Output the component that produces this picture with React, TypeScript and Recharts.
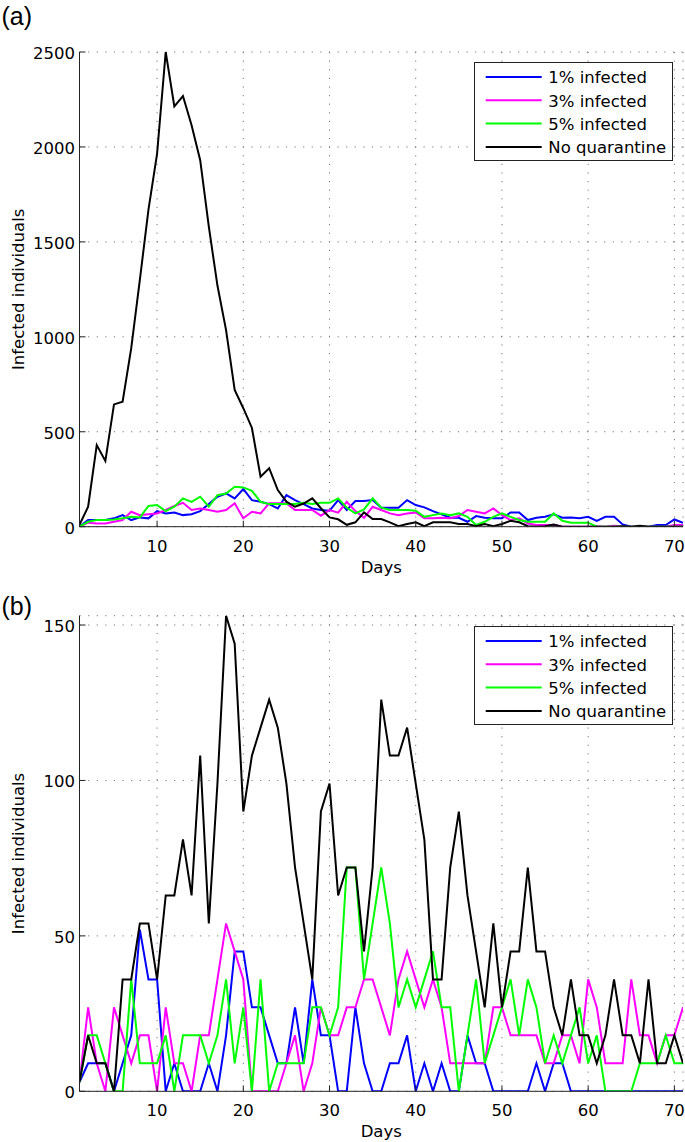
import React from 'react';
import { LineChart, Line, XAxis, YAxis, CartesianGrid, Legend } from 'recharts';

// ---------- data ----------
const days = Array.from({ length: 71 }, (_, i) => i + 1);
const seriesNames = ['1% infected', '3% infected', '5% infected', 'No quarantine'];
const seriesColors = ['#0000ff', '#ff00ff', '#00ff00', '#000000'];
const xTicks = [10, 20, 30, 40, 50, 60, 70];
const yTicksA = [0, 500, 1000, 1500, 2000, 2500];
const yTicksB = [0, 50, 100, 150];

// Panel (a)
const a1pct = [0, 35, 35, 35, 44, 61, 35, 49, 44, 82, 70, 75, 61, 66, 82, 119, 158, 175, 149, 198, 140, 131, 119, 96, 166, 140, 119, 96, 88, 84, 140, 88, 135, 135, 140, 100, 100, 100, 140, 114, 102, 82, 65, 47, 47, 26, 56, 47, 44, 44, 75, 75, 35, 47, 52, 65, 47, 49, 44, 52, 30, 52, 52, 12, 0, 0, 0, 9, 9, 38, 21];
const a3pct = [0, 21, 17, 17, 26, 35, 79, 61, 65, 70, 88, 109, 126, 88, 96, 88, 79, 88, 123, 44, 79, 70, 123, 123, 123, 88, 88, 88, 58, 88, 74, 131, 82, 47, 105, 88, 70, 61, 70, 75, 44, 44, 47, 44, 56, 88, 79, 70, 96, 61, 35, 44, 17, 9, 9, 9, 0, 0, 0, 0, 3, 0, 5, 0, 0, 0, 0, 0, 0, 9, 9];
const a5pct = [0, 26, 35, 35, 38, 44, 52, 49, 109, 114, 82, 105, 149, 131, 158, 105, 166, 175, 210, 207, 189, 131, 119, 119, 119, 119, 126, 119, 126, 126, 149, 100, 70, 91, 149, 100, 88, 88, 88, 84, 52, 61, 70, 61, 70, 52, 9, 26, 52, 70, 52, 35, 26, 26, 26, 70, 31, 21, 21, 21, 0, 0, 0, 0, 0, 0, 0, 0, 0, 0, 0];
const aNoQ = [10, 105, 430, 346, 644, 658, 940, 1300, 1670, 1965, 2500, 2214, 2268, 2114, 1930, 1580, 1270, 1035, 720, 624, 520, 263, 308, 193, 132, 105, 122, 149, 97, 49, 39, 10, 23, 75, 40, 40, 23, 3, 14, 23, 3, 23, 23, 23, 14, 14, 3, 14, 3, 14, 31, 23, 3, 0, 3, 12, 0, 0, 0, 0, 0, 0, 0, 3, 0, 5, 0, 0, 0, 0, 0];

// Panel (b)
const b1pct = [3, 9, 9, 9, 0, 9, 18, 52, 36, 36, 0, 9, 0, 0, 0, 9, 0, 18, 45, 45, 27, 27, 18, 9, 9, 27, 9, 36, 18, 18, 0, 0, 27, 9, 0, 0, 9, 9, 18, 0, 9, 0, 9, 0, 0, 18, 9, 9, 0, 0, 0, 0, 0, 9, 0, 9, 9, 0, 0, 0, 0, 0, 0, 0, 0, 0, 0, 0, 0, 0, 0];
const b3pct = [3, 27, 9, 0, 27, 18, 9, 18, 18, 0, 27, 9, 9, 0, 18, 18, 36, 54, 45, 36, 0, 0, 0, 0, 9, 18, 0, 9, 27, 18, 18, 27, 27, 36, 36, 27, 18, 36, 45, 36, 27, 36, 27, 9, 9, 9, 9, 9, 27, 27, 18, 18, 18, 18, 9, 9, 18, 18, 9, 36, 27, 9, 9, 9, 36, 18, 18, 9, 18, 18, 27];
const b5pct = [3, 18, 18, 9, 0, 0, 36, 9, 9, 9, 18, 0, 18, 18, 18, 9, 18, 36, 9, 27, 0, 36, 0, 9, 9, 9, 9, 27, 27, 18, 27, 72, 72, 36, 54, 72, 54, 27, 36, 27, 36, 45, 27, 27, 0, 18, 36, 9, 18, 27, 36, 18, 36, 27, 9, 18, 9, 18, 27, 9, 18, 0, 0, 0, 0, 9, 9, 9, 18, 9, 9];
const bNoQ = [3, 18, 9, 9, 0, 36, 36, 54, 54, 36, 63, 63, 81, 63, 108, 54, 99, 153, 144, 90, 108, 117, 126, 117, 99, 72, 54, 36, 90, 99, 63, 72, 72, 45, 72, 126, 108, 108, 117, 99, 81, 36, 36, 72, 90, 63, 45, 27, 54, 27, 45, 45, 72, 45, 45, 27, 18, 36, 18, 18, 9, 18, 36, 18, 18, 9, 36, 9, 9, 18, 9];

const buildRows = (s: number[][]) =>
  days.map((d, i) => ({ day: d, s0: s[0][i], s1: s[1][i], s2: s[2][i], s3: s[3][i] }));

const dataA = buildRows([a1pct, a3pct, a5pct, aNoQ]);
const dataB = buildRows([b1pct, b3pct, b5pct, bNoQ]);

// ---------- styling ----------
const FONT = '"DejaVu Sans", Verdana, sans-serif';
const FS = 16.5;
const TICK_LEN = 6;
const FRAME = '#222';
const CHART_W = 685;
const PLOT_LEFT = 79.5;
const PLOT_RIGHT_MARGIN = 2;
const X_AXIS_H = 45;

const BottomTick = (p: any) => (
  <g>
    <line x1={p.x} x2={p.x} y1={p.y} y2={p.y - TICK_LEN} stroke={FRAME} strokeWidth={1} />
    <text x={p.x} y={p.y + 25} textAnchor="middle" fontSize={FS} fontFamily={FONT} fill="#000">
      {p.payload.value}
    </text>
  </g>
);
const TopTick = (p: any) => (
  <line x1={p.x} x2={p.x} y1={p.y} y2={p.y + TICK_LEN} stroke={FRAME} strokeWidth={1} />
);
const LeftTick = (p: any) => (
  <g>
    <line x1={p.x} x2={p.x + TICK_LEN} y1={p.y} y2={p.y} stroke={FRAME} strokeWidth={1} />
    <text x={p.x - 4.5} y={p.y + 7} textAnchor="end" fontSize={FS} fontFamily={FONT} fill="#000">
      {p.payload.value}
    </text>
  </g>
);
const RightTick = (p: any) => (
  <line x1={p.x} x2={p.x - TICK_LEN} y1={p.y} y2={p.y} stroke={FRAME} strokeWidth={1} />
);

const LegendBox = () => (
  <svg width={199} height={99} style={{ display: 'block' }}>
    <rect x={0.5} y={0.5} width={198} height={98} fill="#fff" stroke={FRAME} strokeWidth={1} />
    {seriesNames.map((n, i) => {
      const cy = 15 + i * 23.3;
      return (
        <g key={n}>
          <line x1={11.7} x2={67.7} y1={cy} y2={cy} stroke={seriesColors[i]} strokeWidth={2} />
          <text x={74.3} y={cy + 6.3} fontSize={FS} fontFamily={FONT} fill="#000">
            {n}
          </text>
        </g>
      );
    })}
  </svg>
);

type PanelProps = {
  data: any[];
  height: number;
  top: number;
  marginTop: number;
  marginBottom: number;
  yMax: number;
  yTicks: number[];
  tag: string;
  tagBaseline: number;
};

const Panel = ({ data, height, top, marginTop, marginBottom, yMax, yTicks, tag, tagBaseline }: PanelProps) => {
  const plotTop = marginTop;
  const plotBottom = height - marginBottom - X_AXIS_H;
  const cy = (plotTop + plotBottom) / 2;
  const cx = (PLOT_LEFT + CHART_W - PLOT_RIGHT_MARGIN) / 2;
  return (
    <div style={{ position: 'absolute', left: 0, top, width: CHART_W, height }}>
      <LineChart
        width={CHART_W}
        height={height}
        data={data}
        margin={{ top: marginTop, right: PLOT_RIGHT_MARGIN, bottom: marginBottom, left: 0 }}
      >
        <CartesianGrid stroke="#777" strokeDasharray="1.2 7.4" strokeWidth={1} />
        <XAxis
          dataKey="day"
          type="number"
          domain={[1, 71]}
          ticks={xTicks}
          interval={0}
          allowDataOverflow
          height={X_AXIS_H}
          tickSize={0}
          tickMargin={0}
          axisLine={{ stroke: FRAME, strokeWidth: 1 }}
          tick={<BottomTick />}
          label={() => (
            <text x={cx} y={plotBottom + 46} textAnchor="middle" fontSize={FS} fontFamily={FONT} fill="#000">
              Days
            </text>
          )}
        />
        <XAxis
          xAxisId="top"
          orientation="top"
          dataKey="day"
          type="number"
          domain={[1, 71]}
          ticks={xTicks}
          interval={0}
          allowDataOverflow
          height={0}
          tickSize={0}
          tickMargin={0}
          axisLine={{ stroke: FRAME, strokeWidth: 1 }}
          tick={<TopTick />}
        />
        <YAxis
          type="number"
          domain={[0, yMax]}
          ticks={yTicks}
          interval={0}
          allowDataOverflow
          width={PLOT_LEFT}
          tickSize={0}
          tickMargin={0}
          axisLine={{ stroke: FRAME, strokeWidth: 1 }}
          tick={<LeftTick />}
          label={() => (
            <text
              x={24}
              y={cy}
              transform={`rotate(-90 24 ${cy})`}
              textAnchor="middle"
              fontSize={FS}
              fontFamily={FONT}
              fill="#000"
            >
              Infected individuals
            </text>
          )}
        />
        <YAxis
          yAxisId="right"
          orientation="right"
          type="number"
          domain={[0, yMax]}
          ticks={yTicks}
          interval={0}
          allowDataOverflow
          width={0}
          tickSize={0}
          tickMargin={0}
          axisLine={{ stroke: FRAME, strokeWidth: 1 }}
          tick={<RightTick />}
        />
        {seriesNames.map((n, i) => (
          <Line
            key={n}
            type="linear"
            dataKey={`s${i}`}
            name={n}
            stroke={seriesColors[i]}
            strokeWidth={2}
            dot={false}
            activeDot={false}
            isAnimationActive={false}
          />
        ))}
        <Legend
          layout="vertical"
          align="center"
          verticalAlign="middle"
          wrapperStyle={{ left: 474, top: plotTop + 10, width: 199, height: 99, right: 'auto', bottom: 'auto' }}
          content={() => <LegendBox />}
        />
      </LineChart>
      <svg
        width={60}
        height={50}
        style={{ position: 'absolute', left: 0, top: tagBaseline - 30, overflow: 'visible' }}
      >
        <text x={1.5} y={30} fontSize={25} fontFamily='"Liberation Sans", Arial, sans-serif' fill="#000">
          {tag}
        </text>
      </svg>
    </div>
  );
};

export default function App() {
  return (
    <div style={{ position: 'absolute', left: 0, top: 0, width: 685, height: 1142, background: '#fff' }}>
      <Panel data={dataA} height={585} top={0} marginTop={52} marginBottom={13.3} yMax={2500} yTicks={yTicksA} tag="(a)" tagBaseline={25.3} />
      <Panel data={dataB} height={567} top={575} marginTop={40.7} marginBottom={5.7} yMax={153} yTicks={yTicksB} tag="(b)" tagBaseline={39.7} />
    </div>
  );
}
